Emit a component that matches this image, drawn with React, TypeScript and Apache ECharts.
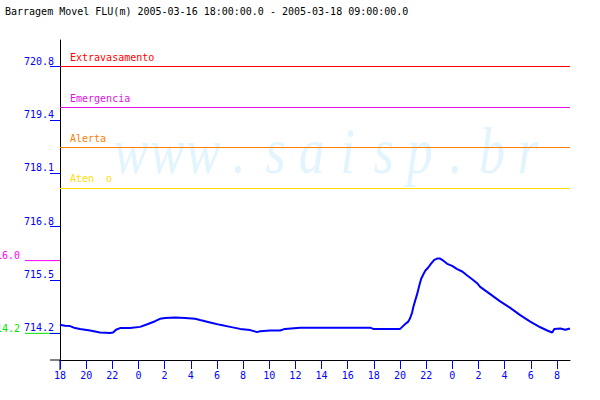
import React, { useEffect, useRef } from "react";
import * as echarts from "echarts";

const TITLE = "Barragem Movel FLU(m) 2005-03-16 18:00:00.0 - 2005-03-18 09:00:00.0";
const WATERMARK = "www.saisp.br";

// hours since 2005-03-16 18:00
const hours = [
  0.0, 0.38, 0.77, 1.15, 1.53, 2.3, 3.06, 3.83, 4.06, 4.28, 4.59, 5.36, 6.12, 6.73, 7.27, 7.65,
  8.03, 8.8, 9.56, 10.33, 10.71, 11.48, 12.24, 13.01, 13.77, 14.54, 15.07, 15.3, 16.07, 16.83,
  17.21, 18.36, 21.42, 23.72, 23.95, 26.01, 26.17, 26.4, 26.63, 26.78, 26.93, 27.01, 27.16,
  27.31, 27.47, 27.62, 27.77, 27.93, 28.16, 28.39, 28.62, 28.84, 29.07, 29.22, 29.61, 29.99,
  30.37, 30.76, 31.14, 31.52, 31.9, 32.13, 32.9, 33.66, 34.43, 35.19, 35.96, 36.73, 37.26,
  37.64, 37.8, 38.26, 38.64, 39.0,
];
const levels = [
  714.41, 714.39, 714.38, 714.33, 714.31, 714.27, 714.22, 714.21, 714.22, 714.29, 714.33, 714.33,
  714.36, 714.43, 714.5, 714.56, 714.58, 714.59, 714.58, 714.56, 714.53, 714.47, 714.41, 714.36,
  714.31, 714.28, 714.23, 714.25, 714.27, 714.27, 714.31, 714.34, 714.34, 714.34, 714.31, 714.31,
  714.36, 714.43, 714.49, 714.58, 714.72, 714.84, 715.01, 715.17, 715.38, 715.55, 715.65, 715.75,
  715.83, 715.93, 716.02, 716.05, 716.05, 716.02, 715.92, 715.87, 715.79, 715.73, 715.63, 715.54,
  715.44, 715.35, 715.17, 714.99, 714.83, 714.65, 714.49, 714.35, 714.27, 714.22, 714.31, 714.32,
  714.29, 714.32,
];

const START_HOUR = 18;
const X_MIN = 0;
const X_MAX = 39;
const xTicks = [0, 2, 4, 6, 8, 10, 12, 14, 16, 18, 20, 22, 24, 26, 28, 30, 32, 34, 36, 38];

const Y_MIN = 713.54;
const Y_MAX = 721.46;
const yTicks = [714.2, 715.52, 716.84, 718.16, 719.48, 720.8];
const yTickLabels = ["714.2", "715.5", "716.8", "718.1", "719.4", "720.8"];

const thresholdNames = ["Extravasamento", "Emergencia", "Alerta", "Aten  o"];
const thresholdValues = [720.8, 719.8, 718.8, 717.8];
const thresholdColors = ["#ff0000", "#e010e0", "#ff8000", "#ffdd00"];

const refValues = [716.0, 714.2];
const refLabels = ["716.0", "714.2"];
const refColors = ["#ff00ff", "#00e000"];

const MONO = '"DejaVu Sans Mono", "Liberation Mono", monospace';
const GRID = { left: 60, right: 30, top: 40, bottom: 40 };

export default function App() {
  const ref = useRef<HTMLDivElement>(null);
  useEffect(() => {
    if (!ref.current) return;
    const chart = echarts.init(ref.current, null, { renderer: "svg" });
    const data = hours.map((h, i) => [h, levels[i]]);
    chart.setOption({
      animation: false,
      backgroundColor: "#ffffff",
      title: {
        text: TITLE,
        left: 5,
        top: 6,
        padding: 0,
        textStyle: { fontFamily: MONO, fontSize: 10, fontWeight: "normal", color: "#000000" },
      },
      grid: GRID,
      xAxis: {
        type: "value",
        min: X_MIN,
        max: X_MAX,
        axisLine: { lineStyle: { color: "#000000", width: 1 } },
        axisTick: { customValues: xTicks, length: 9, lineStyle: { color: "#0000ff" } },
        axisLabel: {
          customValues: xTicks,
          margin: 10,
          color: "#0000ff",
          fontFamily: MONO,
          fontSize: 10,
          formatter: (v: number) => String((START_HOUR + v) % 24),
        },
        splitLine: { show: false },
      },
      yAxis: {
        type: "value",
        min: Y_MIN,
        max: Y_MAX,
        axisLine: { show: true, lineStyle: { color: "#000000", width: 1 } },
        axisTick: { show: true, customValues: yTicks, length: 10, lineStyle: { color: "#0000ff" } },
        axisLabel: {
          customValues: yTicks,
          margin: 6,
          color: "#0000ff",
          fontFamily: MONO,
          fontSize: 10,
          verticalAlign: "bottom",
          lineHeight: 11,
          formatter: (v: number) => {
            let best = 0;
            yTicks.forEach((t, i) => {
              if (Math.abs(t - v) < Math.abs(yTicks[best] - v)) best = i;
            });
            return yTickLabels[best];
          },
        },
        splitLine: { show: false },
      },
      series: [
        {
          type: "line",
          data,
          showSymbol: false,
          symbol: "none",
          lineStyle: { color: "#0000ff", width: 2 },
          z: 5,
          markLine: {
            silent: true,
            symbol: "none",
            animation: false,
            data: thresholdValues.map((v, i) => ({
              yAxis: v,
              lineStyle: { color: thresholdColors[i], width: 1, type: "solid" },
              label: {
                show: true,
                formatter: thresholdNames[i],
                position: "insideStartTop",
                color: thresholdColors[i],
                fontFamily: MONO,
                fontSize: 10,
                distance: [10, 4],
              },
            })),
          },
        },
      ],
    });

    const yPix = (v: number) => chart.convertToPixel({ yAxisIndex: 0 }, v) as number;
    const xPix = (v: number) => chart.convertToPixel({ xAxisIndex: 0 }, v) as number;
    const x0 = xPix(X_MIN);
    const yBottom = yPix(Y_MIN);
    const wmChars = WATERMARK.split("").map((ch, i) => ({
      type: "text",
      x: 131 + i * 36.1,
      y: 118,
      scaleX: 0.78,
      silent: true,
      style: {
        text: ch,
        font: 'italic 66px "Liberation Serif"',
        fill: "#e2f4fd",
        align: "center",
        verticalAlign: "top",
      },
    }));
    const graphics: any[] = [
      { type: "group", z: -10, silent: true, children: wmChars },
      {
        type: "line",
        shape: { x1: x0 - 10, y1: yBottom, x2: x0, y2: yBottom },
        style: { stroke: "#000000", lineWidth: 1 },
      },
      {
        type: "line",
        shape: { x1: x0, y1: yBottom, x2: x0, y2: yBottom + 10 },
        style: { stroke: "#000000", lineWidth: 1 },
      },
    ];
    refValues.forEach((v, i) => {
      const y = yPix(v);
      graphics.push({
        type: "line",
        z: 0,
        shape: { x1: x0 - 35, y1: y, x2: x0, y2: y },
        style: { stroke: refColors[i], lineWidth: 1 },
      });
      graphics.push({
        type: "text",
        x: x0 - 40,
        y: y,
        style: {
          text: refLabels[i],
          font: '10px "DejaVu Sans Mono"',
          fill: refColors[i],
          align: "right",
          verticalAlign: "bottom",
        },
      });
    });
    chart.setOption({ graphic: graphics });
    return () => chart.dispose();
  }, []);
  return (
    <div
      ref={ref}
      style={{ position: "fixed", left: 0, top: 0, width: 600, height: 400, background: "#fff" }}
    />
  );
}
